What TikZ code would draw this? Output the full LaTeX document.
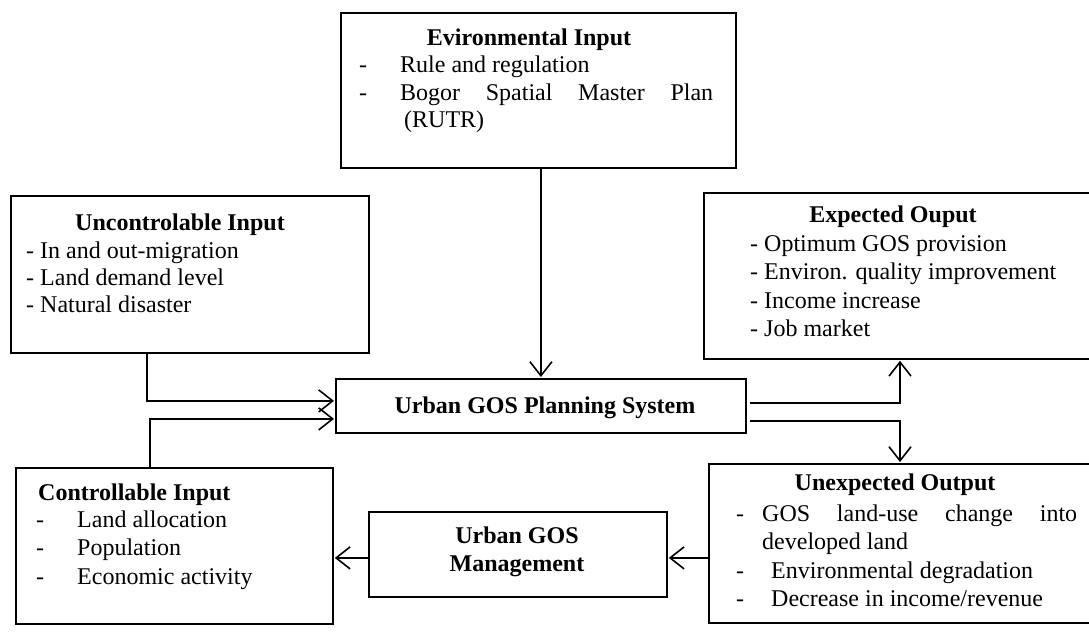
\documentclass[tikz,border=0pt]{standalone}
\usepackage{fontspec}
\setmainfont{Liberation Serif}
\usetikzlibrary{arrows.meta}
\begin{document}
\begin{tikzpicture}[x=1pt,y=-1pt,
  box/.style={draw, line width=1.8pt, inner sep=0pt, anchor=north west},
  txt/.style={anchor=base west, inner sep=0pt, font=\fontsize{24}{28}\selectfont},
  ttl/.style={anchor=base, inner sep=0pt, font=\fontsize{24}{28}\selectfont\bfseries},
  ttlw/.style={anchor=base west, inner sep=0pt, font=\fontsize{24}{28}\selectfont\bfseries},
  dsh/.style={anchor=base, inner sep=0pt, font=\fontsize{24}{28}\selectfont},
  arr/.style={line width=1.8pt, shorten >=1pt, -{Straight Barb[length=14pt,width=22pt,line width=1.6pt]}}
]
\clip (0,0) rectangle (1089,640);
\fill[white] (0,0) rectangle (1089,640);

% boxes
\node[box, minimum width=395pt, minimum height=155pt] (env) at (340,12) {};
\node[box, minimum width=358pt, minimum height=157pt] (unc) at (10,195) {};
\node[box, minimum width=420pt, minimum height=166pt] (exp) at (703,192) {};
\node[box, minimum width=410pt, minimum height=54pt] (plan) at (335,378) {};
\node[box, minimum width=420pt, minimum height=159pt] (unx) at (708,463) {};
\node[box, minimum width=298pt, minimum height=85pt] (mgmt) at (368,511) {};
\node[box, minimum width=317pt, minimum height=156pt] (ctl) at (15,467) {};

% environmental input
\node[ttl] (envt) at (529,45) {Evironmental Input};
\node[dsh] (envd1) at (363,72) {-};
\node[txt] (env1) at (400,72) {Rule and regulation};
\node[dsh] (envd2) at (363,100) {-};
\node[txt] (env2) at (400,100) {\hbox to 313pt{Bogor\hfill Spatial\hfill Master\hfill Plan}};
\node[txt] (env3) at (404,127) {(RUTR)};

% uncontrolable input
\node[ttl] (unct) at (180,230) {Uncontrolable Input};
\node[txt] (unc1) at (26,258) {- In and out-migration};
\node[txt] (unc2) at (26,285) {- Land demand level};
\node[txt] (unc3) at (26,312) {- Natural disaster};

% expected output
\node[ttl] (expt) at (893,222) {Expected Ouput};
\node[txt] (exp1) at (750,251) {- Optimum GOS provision};
\node[txt] (exp2) at (750,279) {- Environ. quality improvement};
\node[txt] (exp3) at (750,308) {- Income increase};
\node[txt] (exp4) at (750,336) {- Job market};

% planning system
\node[ttl] (plant) at (545,413) {Urban GOS Planning System};

% management
\node[ttl] (mgmt1) at (517,543) {Urban GOS};
\node[ttl] (mgmt2) at (517,571) {Management};

% controllable input
\node[ttlw] (ctlt) at (38,500) {Controllable Input};
\node[dsh] (ctld1) at (40,527) {-};
\node[txt] (ctl1) at (77,527) {Land allocation};
\node[dsh] (ctld2) at (40,555) {-};
\node[txt] (ctl2) at (77,555) {Population};
\node[dsh] (ctld3) at (40,584) {-};
\node[txt] (ctl3) at (77,584) {Economic activity};

% unexpected output
\node[ttl] (unxt) at (895,490) {Unexpected Output};
\node[dsh] (unxd1) at (740,521) {-};
\node[txt] (unx1) at (762,521) {\hbox to 315pt{GOS\hfill land-use\hfill change\hfill into}};
\node[txt] (unx2) at (762,549) {developed land};
\node[dsh] (unxd2) at (740,578) {-};
\node[txt] (unx3) at (771,578) {Environmental degradation};
\node[dsh] (unxd3) at (740,606) {-};
\node[txt] (unx4) at (771,606) {Decrease in income/revenue};

% connectors
\draw[arr] (env.south -| plan.north) -- (plan.north);
\draw[arr] ([xshift=137pt]unc.south west) |- ([yshift=5pt]plan.west);
\draw[arr] ([xshift=135pt]ctl.north west) |- ([yshift=-13pt]plan.west);
\draw[arr] ([xshift=3pt,yshift=3pt]plan.east) -| ([xshift=197pt]exp.south west);
\draw[arr] ([xshift=3pt,yshift=-15pt]plan.east) -| ([xshift=192pt]unx.north west);
\coordinate (ma) at ([yshift=-3.5pt]mgmt.east);
\draw[arr] (ma -| unx.west) -- (ma);
\draw[arr] (ma -| mgmt.west) -- (ma -| ctl.east);
\end{tikzpicture}
\end{document}
